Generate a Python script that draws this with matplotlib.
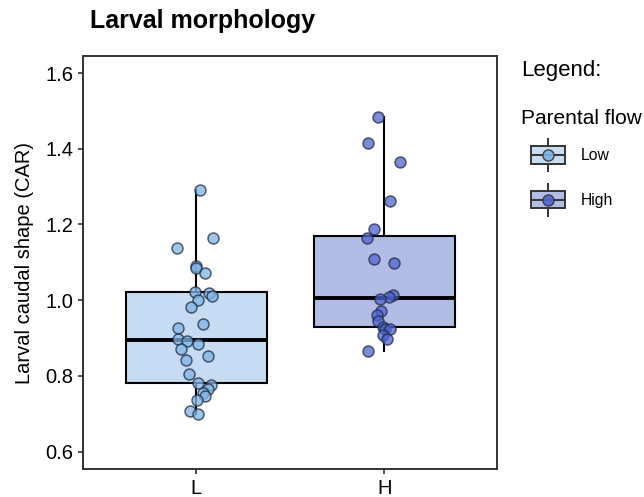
import matplotlib
matplotlib.use("Agg")
import matplotlib.pyplot as plt
import numpy as np
from matplotlib.legend_handler import HandlerBase
from matplotlib.patches import Rectangle
from matplotlib.lines import Line2D

plt.rcParams['font.family'] = ['Liberation Sans', 'DejaVu Sans']

# datos
grupos = ['L', 'H']
etiquetas_leyenda = ['Low', 'High']

car_low = [1.292, 1.163, 1.138, 1.091, 1.084, 1.072, 1.022, 1.020, 1.011, 1.000,
           0.981, 0.936, 0.926, 0.897, 0.893, 0.884, 0.872, 0.853, 0.841, 0.804,
           0.782, 0.777, 0.765, 0.755, 0.746, 0.736, 0.708, 0.698]
jit_low = [0.02, 0.088, -0.102, 0.0, 0.0, 0.048, -0.007, 0.07, 0.086, 0.012,
           -0.026, 0.036, -0.099, -0.099, -0.05, 0.007, -0.081, 0.065, -0.053, -0.04,
           0.012, 0.078, 0.063, 0.037, 0.048, 0.004, -0.032, 0.007]

car_high = [1.483, 1.416, 1.364, 1.262, 1.187, 1.163, 1.110, 1.099, 1.013, 1.007,
            1.004, 0.971, 0.960, 0.945, 0.930, 0.925, 0.923, 0.908, 0.896, 0.866]
jit_high = [-0.035, -0.088, 0.083, 0.03, -0.053, -0.094, -0.053, 0.053, 0.044, 0.023,
            -0.026, -0.017, -0.04, -0.035, -0.01, 0.005, 0.03, -0.005, 0.012, -0.088]

datos = [car_low, car_high]
jitter = [jit_low, jit_high]

color_caja = ['#c6dcf2', '#b2bde6']
color_punto = ['#7fb5e6', '#4f63d2']


class HandlerCaja(HandlerBase):
    def __init__(self, caja, punto):
        super().__init__()
        self.caja = caja
        self.punto = punto

    def create_artists(self, legend, orig_handle, xdescent, ydescent, width, height, fontsize, trans):
        cx = width / 2 - xdescent
        cy = height / 2 - ydescent
        w = width * 0.95
        h = height * 1.1
        rect = Rectangle((cx - w / 2, cy - h / 2), w, h, facecolor=self.caja,
                         edgecolor='#333333', lw=1.4, transform=trans)
        med = Line2D([cx - w / 2, cx + w / 2], [cy, cy], color='#333333', lw=1.4, transform=trans)
        w1 = Line2D([cx, cx], [cy + h / 2, cy + h / 2 + height * 0.45], color='#333333', lw=1.4, transform=trans)
        w2 = Line2D([cx, cx], [cy - h / 2, cy - h / 2 - height * 0.45], color='#333333', lw=1.4, transform=trans)
        pt = Line2D([cx], [cy], marker='o', markersize=8, markerfacecolor=self.punto,
                    markeredgecolor='#333333', markeredgewidth=1, alpha=0.9, transform=trans)
        return [rect, med, w1, w2, pt]


fig = plt.figure(figsize=(6.44, 4.97), dpi=100)
ax = fig.add_axes([0.1294, 0.0557, 0.6428, 0.8316])

pos = np.arange(1, len(grupos) + 1)
bp = ax.boxplot(datos, positions=pos, widths=0.75, patch_artist=True, whis=1.5,
                showfliers=False, showcaps=False,
                medianprops=dict(color='black', lw=2.8),
                whiskerprops=dict(color='black', lw=1.5),
                boxprops=dict(edgecolor='black', lw=1.5))
for caja, c in zip(bp['boxes'], color_caja):
    caja.set_facecolor(c)

for i, (y, j) in enumerate(zip(datos, jitter)):
    ax.scatter(pos[i] + np.array(j), y, s=62, color=color_punto[i], alpha=0.75,
               edgecolors='#1c2b40', linewidths=1.1, zorder=3)

ax.set_xlim(0.4, 2.6)
ax.set_ylim(0.553, 1.645)
ax.set_yticks([0.6, 0.8, 1.0, 1.2, 1.4, 1.6])
ax.set_yticklabels(['0.6', '0.8', '1.0', '1.2', '1.4', '1.6'])
ax.set_xticks(pos)
ax.set_xticklabels(grupos)
ax.tick_params(labelsize=14.5, length=3.6, width=1.2, color='#333333', labelcolor='black', pad=3.6)
for s in ax.spines.values():
    s.set_color('#333333')
    s.set_linewidth(1.4)

ax.set_ylabel('Larval caudal shape (CAR)', fontsize=14.5, labelpad=8)
fig.text(90 / 644, 1 - 28 / 497, 'Larval morphology', fontsize=18, fontweight='bold', va='baseline')
fig.text(521 / 644, 1 - 76 / 497, 'Legend:', fontsize=16, va='baseline')
fig.text(521 / 644, 1 - 124 / 497, 'Parental flow', fontsize=15, va='baseline')

handles = [Rectangle((0, 0), 1, 1), Rectangle((0, 1), 1, 1)]
leg = fig.legend(handles, etiquetas_leyenda, loc='upper left',
                 bbox_to_anchor=(530 / 644, 1 - 147 / 497), frameon=False, fontsize=11.3,
                 handlelength=2.3, handleheight=1.2, borderpad=0, borderaxespad=0,
                 labelspacing=1.8, handletextpad=0.95,
                 handler_map={handles[0]: HandlerCaja(color_caja[0], color_punto[0]),
                              handles[1]: HandlerCaja(color_caja[1], color_punto[1])})

plt.savefig('out.png', dpi=100)
